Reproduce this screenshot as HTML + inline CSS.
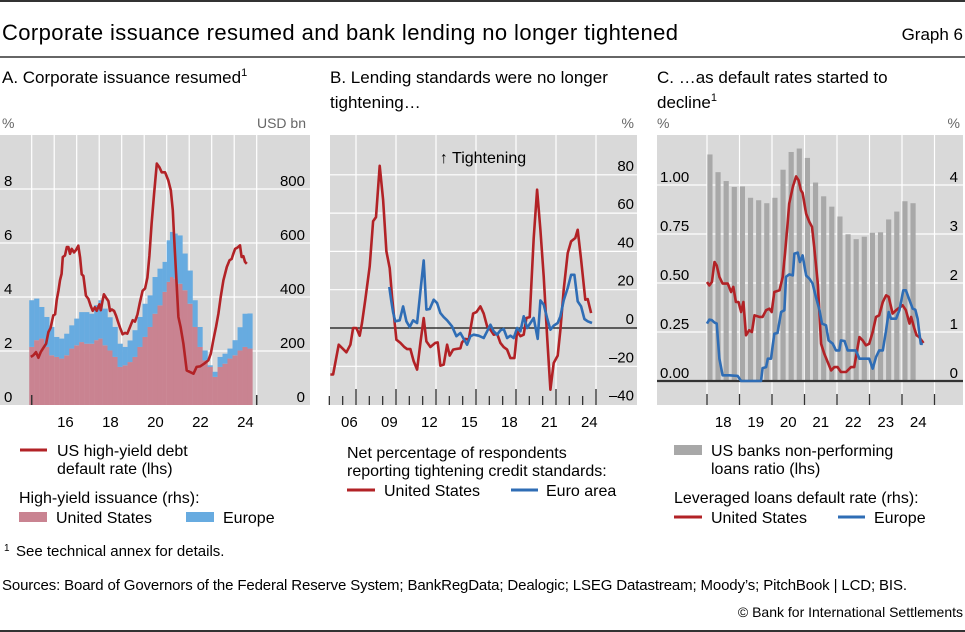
<!DOCTYPE html>
<html><head><meta charset="utf-8"><style>
html,body{margin:0;padding:0;background:#fff;}
svg{display:block;font-family:"Liberation Sans",sans-serif;}
</style></head><body>
<svg id="chart" width="965" height="632" viewBox="0 0 965 632" xmlns="http://www.w3.org/2000/svg">
<rect x="0" y="0" width="965" height="632" fill="#fff"/>
<line x1="0" y1="1" x2="965" y2="1" stroke="#333" stroke-width="2"/>
<text x="2" y="40" font-size="22" fill="#000" textLength="676">Corporate issuance resumed and bank lending no longer tightened</text>
<text x="963" y="40" font-size="17" text-anchor="end" fill="#000">Graph 6</text>
<line x1="0" y1="57" x2="965" y2="57" stroke="#333" stroke-width="1.5"/>

<text x="2" y="83" font-size="17">A. Corporate issuance resumed<tspan font-size="11" dy="-7">1</tspan></text>
<text x="330" y="83" font-size="17">B. Lending standards were no longer</text>
<text x="330" y="108" font-size="17">tightening…</text>
<text x="657" y="83" font-size="17">C. …as default rates started to</text>
<text x="657" y="108" font-size="17">decline<tspan font-size="11" dy="-7">1</tspan></text>

<g id="pa"></g>
<g id="pb"></g>
<g id="pc"></g>

<!-- legends -->
<g font-size="16">
<line x1="20" y1="450" x2="47" y2="450" stroke="#b22226" stroke-width="3"/>
<text x="57" y="456">US high-yield debt</text>
<text x="57" y="474">default rate (lhs)</text>
<text x="19" y="503">High-yield issuance (rhs):</text>
<rect x="19" y="512" width="28" height="10" fill="#c98391"/>
<text x="56" y="523">United States</text>
<rect x="186" y="512" width="28" height="10" fill="#67abe0"/>
<text x="223" y="523">Europe</text>
</g>
<g font-size="16">
<text x="347" y="458">Net percentage of respondents</text>
<text x="347" y="476">reporting tightening credit standards:</text>
<line x1="347" y1="490" x2="375" y2="490" stroke="#b22226" stroke-width="3"/>
<text x="384" y="496">United States</text>
<line x1="511" y1="490" x2="538" y2="490" stroke="#2f6db5" stroke-width="3"/>
<text x="546" y="496">Euro area</text>
</g>
<g font-size="16">
<rect x="674" y="445" width="28" height="10" fill="#a8a8a8"/>
<text x="711" y="456">US banks non-performing</text>
<text x="711" y="474">loans ratio (lhs)</text>
<text x="674" y="503">Leveraged loans default rate (rhs):</text>
<line x1="674" y1="517" x2="702" y2="517" stroke="#b22226" stroke-width="3"/>
<text x="711" y="523">United States</text>
<line x1="838" y1="517" x2="865" y2="517" stroke="#2f6db5" stroke-width="3"/>
<text x="874" y="523">Europe</text>
</g>
<text x="4" y="551" font-size="10">1</text>
<text x="16" y="556" font-size="15">See technical annex for details.</text>
<text x="2" y="590" font-size="15" textLength="905">Sources: Board of Governors of the Federal Reserve System; BankRegData; Dealogic; LSEG Datastream; Moody’s; PitchBook | LCD; BIS.</text>
<text x="963" y="617" font-size="14" text-anchor="end">© Bank for International Settlements</text>
<line x1="0" y1="631" x2="965" y2="631" stroke="#333" stroke-width="2"/>
</svg>
<script>
// ---------- Panel A data ----------
const aBarYears=[2015.00,2015.22,2015.44,2015.67,2015.89,2016.11,2016.33,2016.56,2016.78,2017.00,2017.22,2017.44,2017.67,2017.89,2018.04,2018.26,2018.48,2018.70,2018.93,2019.15,2019.37,2019.59,2019.81,2020.04,2020.26,2020.48,2020.70,2020.93,2021.07,2021.22,2021.37,2021.59,2021.81,2022.04,2022.26,2022.48,2022.70,2022.93,2023.15,2023.37,2023.59,2023.81,2024.04,2024.26,2024.48,2024.70];
const aUS=[215,240,246,215,184,178,172,184,209,221,233,227,227,240,246,221,202,178,141,147,159,178,215,252,289,338,369,419,456,474,468,449,425,375,289,215,165,141,104,141,153,172,184,202,215,209];
const aEU=[173,154,117,111,105,74,74,80,86,99,111,117,111,130,142,136,123,111,86,68,80,99,111,123,117,136,136,111,154,167,167,179,136,123,99,74,37,6,19,37,37,37,56,86,123,130];
const aDefYears=[2014.96,2015.07,2015.19,2015.30,2015.40,2015.52,2015.64,2015.74,2015.84,2015.96,2016.04,2016.11,2016.19,2016.26,2016.33,2016.38,2016.48,2016.56,2016.63,2016.70,2016.78,2016.88,2016.97,2017.07,2017.15,2017.22,2017.30,2017.41,2017.52,2017.62,2017.71,2017.81,2017.89,2018.01,2018.07,2018.16,2018.21,2018.30,2018.41,2018.48,2018.56,2018.66,2018.75,2018.85,2018.93,2019.04,2019.15,2019.25,2019.37,2019.49,2019.59,2019.70,2019.81,2019.93,2020.04,2020.14,2020.23,2020.33,2020.44,2020.56,2020.67,2020.78,2020.93,2021.07,2021.18,2021.27,2021.33,2021.41,2021.52,2021.62,2021.74,2021.89,2022.04,2022.19,2022.33,2022.48,2022.66,2022.85,2022.96,2023.07,2023.19,2023.30,2023.40,2023.52,2023.67,2023.79,2023.89,2023.96,2024.04,2024.14,2024.26,2024.33,2024.41,2024.48,2024.56];
const aDef=[1.78,1.84,1.96,1.75,1.96,2.12,2.27,2.70,2.86,3.32,3.36,3.88,4.25,4.62,4.86,5.48,5.54,5.85,5.85,5.60,5.78,5.65,5.74,5.90,5.46,4.84,4.78,4.05,3.93,3.68,3.49,3.62,3.49,3.73,3.51,3.91,4.10,3.98,3.85,3.48,3.54,3.48,3.30,3.05,2.86,2.62,2.67,2.64,2.89,3.14,3.09,3.36,3.80,4.23,4.32,4.72,5.53,6.72,7.83,8.94,8.81,8.62,8.62,8.32,7.95,7.21,6.22,4.99,3.26,2.89,2.27,1.28,1.22,1.16,1.41,1.43,1.53,1.65,1.90,2.40,2.89,3.38,4.00,4.62,5.11,5.36,5.41,5.60,5.78,5.83,5.91,5.48,5.51,5.30,5.23];
const aLeftTicks=["0","2","4","6","8"];
const aRightTicks=["0","200","400","600","800"];
const aXLabels=["16","18","20","22","24"];

// ---------- Panel B data ----------
const bUSYears=[2005.08,2005.28,2005.70,2005.95,2006.28,2006.58,2006.78,2007.03,2007.28,2007.45,2007.70,2008.03,2008.28,2008.50,2008.78,2009.03,2009.28,2009.53,2009.70,2010.03,2010.33,2010.63,2010.83,2011.08,2011.33,2011.58,2011.83,2012.08,2012.28,2012.58,2012.95,2013.13,2013.33,2013.58,2013.83,2014.03,2014.28,2014.45,2014.83,2014.95,2015.20,2015.45,2015.78,2016.03,2016.33,2016.58,2016.83,2017.08,2017.33,2017.58,2017.83,2018.08,2018.33,2018.58,2018.88,2019.08,2019.33,2019.58,2019.78,2020.03,2020.33,2020.58,2020.83,2021.08,2021.33,2021.58,2021.83,2022.13,2022.33,2022.58,2022.88,2023.13,2023.45,2023.63,2023.88,2024.20,2024.38,2024.63];
const bUS=[-24.3,-24.3,-8.7,-10.4,-12.7,-8.7,0,0,-4.0,2.6,14.8,32.2,55.7,57.9,84.7,67.0,40.0,31.3,16.5,-6.1,-7.8,-10.0,-11.0,-11.0,-17.4,-21.7,-7.8,5.2,-7.0,-9.9,-7.8,-7.5,-19.7,-19.1,-8.7,-14.4,-11.3,-11.0,-10.6,-7.5,-5.7,-6.1,7.5,8.3,11.3,7.5,0.9,-0.9,-3.5,-3.0,-7.8,-10.0,-11.3,-15.7,-15.7,-1.7,-4.3,-3.5,5.2,5.7,46.9,72.2,51.3,27.0,-4.3,-32.2,-18.3,-14.4,-0.9,20.0,39.1,45.2,47.0,51.3,35.7,14.8,15.1,7.8];
const bEAYears=[2009.50,2009.63,2009.78,2009.95,2010.28,2010.53,2010.78,2011.03,2011.28,2011.58,2011.83,2012.08,2012.28,2012.53,2012.83,2013.08,2013.33,2013.58,2013.83,2014.20,2014.53,2014.83,2015.08,2015.33,2015.58,2015.83,2016.20,2016.58,2016.83,2017.08,2017.33,2017.58,2017.83,2018.08,2018.33,2018.58,2018.83,2019.08,2019.33,2019.58,2019.83,2020.08,2020.33,2020.63,2020.83,2021.08,2021.33,2021.58,2021.83,2022.13,2022.33,2022.58,2022.88,2023.13,2023.38,2023.63,2023.88,2024.13,2024.38,2024.70];
const bEA=[21.4,14.8,8.2,3.5,4.0,11.3,3.5,0.5,4.0,2.6,19.1,35.3,9.6,9.9,14.8,13.0,7.8,5.7,4.0,0.9,-4.3,-2.6,-5.7,-8.7,-4.3,-3.5,-4.0,-5.2,-1.7,1.7,-1.7,-3.5,-1.2,-0.5,-5.2,-4.0,-5.2,0,-1.7,6.1,0,2.6,5.2,-5.7,14.4,12.2,5.2,-0.9,1.2,2.6,6.1,14.4,20.9,27.8,27.8,13.9,11.3,4.7,3.5,2.6];
const bTicks=["–40","–20","0","20","40","60","80"];
const bTickVals=[-40,-20,0,20,40,60,80];
const bXLabels=["06","09","12","15","18","21","24"];

// ---------- Panel C data ----------
const cBarQuarters=["18Q1","18Q2","18Q3","18Q4","19Q1","19Q2","19Q3","19Q4","20Q1","20Q2","20Q3","20Q4","21Q1","21Q2","21Q3","21Q4","22Q1","22Q2","22Q3","22Q4","23Q1","23Q2","23Q3","23Q4","24Q1","24Q2"];
const cNPL=[4.60,4.24,4.06,3.94,3.95,3.72,3.67,3.61,3.72,4.29,4.65,4.72,4.53,4.03,3.75,3.54,3.34,2.98,2.88,2.93,3.01,3.02,3.28,3.44,3.65,3.61];
const cUSYears=[2018.00,2018.07,2018.15,2018.23,2018.30,2018.38,2018.48,2018.64,2018.74,2018.81,2018.89,2018.97,2019.05,2019.12,2019.20,2019.30,2019.38,2019.46,2019.61,2019.71,2019.82,2019.92,2019.99,2020.07,2020.23,2020.33,2020.40,2020.48,2020.53,2020.64,2020.74,2020.82,2020.89,2020.94,2021.05,2021.15,2021.23,2021.30,2021.41,2021.51,2021.61,2021.82,2021.92,2022.02,2022.12,2022.28,2022.43,2022.53,2022.69,2022.79,2022.89,2022.99,2023.10,2023.20,2023.30,2023.41,2023.51,2023.59,2023.71,2023.82,2024.02,2024.12,2024.23,2024.28,2024.38,2024.45,2024.53,2024.66];
const cUS=[0.505,0.488,0.505,0.607,0.590,0.531,0.497,0.497,0.454,0.480,0.403,0.403,0.352,0.403,0.233,0.259,0.250,0.335,0.327,0.327,0.361,0.369,0.352,0.454,0.463,0.531,0.650,0.803,0.905,0.990,1.044,1.024,0.973,0.959,0.854,0.811,0.786,0.684,0.497,0.190,0.139,0.054,0.071,0.071,0.046,0.046,0.071,0.071,0.224,0.207,0.182,0.190,0.250,0.327,0.335,0.403,0.437,0.429,0.344,0.361,0.386,0.361,0.293,0.327,0.267,0.233,0.224,0.194];
const cEUYears=[2018.00,2018.07,2018.15,2018.23,2018.30,2018.38,2018.48,2018.69,2018.94,2019.05,2019.20,2019.66,2019.71,2019.82,2019.87,2019.97,2020.07,2020.17,2020.28,2020.38,2020.43,2020.53,2020.64,2020.69,2020.79,2020.86,2020.94,2021.05,2021.15,2021.25,2021.35,2021.46,2021.54,2021.66,2021.74,2021.87,2021.97,2022.07,2022.12,2022.23,2022.33,2022.58,2022.69,2022.99,2023.10,2023.20,2023.30,2023.41,2023.51,2023.59,2023.66,2023.82,2023.92,2024.04,2024.12,2024.23,2024.33,2024.41,2024.48,2024.53,2024.58,2024.64];
const cEU=[0.293,0.313,0.310,0.298,0.293,0.114,0.029,0.029,0.026,0,0,0,0.066,0.071,0.114,0.114,0.241,0.245,0.352,0.361,0.531,0.544,0.539,0.650,0.655,0.607,0.641,0.539,0.522,0.497,0.429,0.361,0.293,0.284,0.207,0.190,0.156,0.156,0.207,0.204,0.156,0.156,0.114,0.114,0.063,0.122,0.156,0.156,0.259,0.352,0.318,0.318,0.361,0.463,0.463,0.412,0.369,0.364,0.318,0.250,0.190,0.190];
const cLeftTicks=["0.00","0.25","0.50","0.75","1.00"];
const cRightTicks=["0","1","2","3","4"];
const cXLabels=["18","19","20","21","22","23","24"];

const NS="http://www.w3.org/2000/svg";
function mk(parent,tag,attrs,text){const e=document.createElementNS(NS,tag);for(const k in attrs)e.setAttribute(k,attrs[k]);if(text!==undefined)e.textContent=text;parent.appendChild(e);return e;}
const RED="#b22226",BLUE="#2f6db5";
function pathD(xs,ys,fx,fy){return xs.map((x,i)=>(i?"L":"M")+fx(x).toFixed(1)+","+fy(ys[i]).toFixed(1)).join("");}

// ===== Panel A =====
(function(){
const g=document.getElementById('pa');
const L=0,R=310,T=135,B=405;
const ax=y=>31.7+(y-2015)*22.5;
const ayL=v=>B-v*27;
const ayR=v=>B-v*0.27;
const bg=mk(g,'rect',{x:L,y:T,width:R-L,height:B-T,fill:'#d9d9d9'});


for(let yr=2015;yr<=2025;yr++)mk(g,'line',{x1:ax(yr),y1:T,x2:ax(yr),y2:B,stroke:'#fff','stroke-width':1.2});
aLeftTicks.forEach((t,i)=>{const v=+t;const y=ayL(v);if(v>0)mk(g,'line',{x1:L,y1:y,x2:R,y2:y,stroke:'#fff','stroke-width':1.2});
 const tl=mk(g,'text',{x:4,y:y-3,'font-size':15},t);
 const tr=mk(g,'text',{x:305,y:y-3,'font-size':15,'text-anchor':'end'},aRightTicks[i]);});
aBarYears.forEach((yr,i)=>{
 const prev=i>0?aBarYears[i-1]:yr-(aBarYears[1]-aBarYears[0]);
 const next=i<aBarYears.length-1?aBarYears[i+1]:yr+(yr-prev);
 const x0=ax((prev+yr)/2),x1=ax((yr+next)/2);
 const us=mk(g,'rect',{x:x0,y:ayR(aUS[i]),width:x1-x0+0.2,height:B-ayR(aUS[i]),fill:'#c98391'});
 
 const eu=mk(g,'rect',{x:x0,y:ayR(aUS[i]+aEU[i]),width:x1-x0+0.2,height:ayR(aUS[i])-ayR(aUS[i]+aEU[i]),fill:'#67abe0'});
 
});
[2015,2025].forEach(yr=>mk(g,'line',{x1:ax(yr),y1:395,x2:ax(yr),y2:B,stroke:'#333','stroke-width':1.5}));
const p=mk(g,'path',{d:pathD(aDefYears,aDef,ax,ayL),fill:'none',stroke:RED,'stroke-width':2.6,'stroke-linejoin':'round'});

aXLabels.forEach(t=>{const yr=2000+ +t+0.5;const e=mk(g,'text',{x:ax(yr),y:427,'font-size':15,'text-anchor':'middle'},t);});
const u1=mk(g,'text',{x:2,y:128,'font-size':14,fill:'#666'},'%');
const u2=mk(g,'text',{x:306,y:128,'font-size':14,fill:'#666','text-anchor':'end'},'USD bn');
})();

// ===== Panel B =====
(function(){
const g=document.getElementById('pb');
const L=330,R=637,T=135,B=405;
const ax=y=>356+(y-2007)*13.333;
const ay=v=>328-v*1.915;
const bg=mk(g,'rect',{x:L,y:T,width:R-L,height:B-T,fill:'#d9d9d9'});

for(let yr=2007;yr<=2025;yr+=3)mk(g,'line',{x1:ax(yr),y1:T,x2:ax(yr),y2:B,stroke:'#fff','stroke-width':1.2});
bTickVals.forEach((v,i)=>{const y=ay(v);if(v!==0&&v>-40)mk(g,'line',{x1:L,y1:y,x2:R,y2:y,stroke:'#fff','stroke-width':1.2});
 const t=mk(g,'text',{x:634,y:y-4,'font-size':15,'text-anchor':'end'},bTicks[i]);});
mk(g,'line',{x1:L,y1:ay(0),x2:R,y2:ay(0),stroke:'#111','stroke-width':1.3});
for(let yr=2005;yr<=2025;yr++){const major=(yr-2007)%3===0;mk(g,'line',{x1:ax(yr),y1:major?389:396,x2:ax(yr),y2:B,stroke:'#333','stroke-width':1.3});}
const p1=mk(g,'path',{d:pathD(bUSYears,bUS,ax,ay),fill:'none',stroke:RED,'stroke-width':2.6,'stroke-linejoin':'round'});

const p2=mk(g,'path',{d:pathD(bEAYears,bEA,ax,ay),fill:'none',stroke:BLUE,'stroke-width':2.6,'stroke-linejoin':'round'});

bXLabels.forEach(t=>{const yr=2000+ +t+0.5;const e=mk(g,'text',{x:ax(yr),y:427,'font-size':15,'text-anchor':'middle'},t);});
const tt=mk(g,'text',{x:483,y:163,'font-size':16,'text-anchor':'middle'},'↑ Tightening');
const u=mk(g,'text',{x:634,y:128,'font-size':14,fill:'#666','text-anchor':'end'},'%');
})();

// ===== Panel C =====
(function(){
const g=document.getElementById('pc');
const L=657,R=963,T=135,B=405;
const ax=y=>707+(y-2018)*32.5;
const ayL=v=>381-v*196;
const ayR=v=>381-v*49.25;
const bg=mk(g,'rect',{x:L,y:T,width:R-L,height:B-T,fill:'#d9d9d9'});

for(let yr=2018;yr<=2025;yr++)mk(g,'line',{x1:ax(yr),y1:T,x2:ax(yr),y2:B,stroke:'#fff','stroke-width':1.2});
cLeftTicks.forEach((t,i)=>{const y=ayL(+t);if(+t>0)mk(g,'line',{x1:L,y1:y,x2:R,y2:y,stroke:'#fff','stroke-width':1.2});
 const a=mk(g,'text',{x:660,y:y-3,'font-size':15},t);
 const b=mk(g,'text',{x:958,y:y-3,'font-size':15,'text-anchor':'end'},cRightTicks[i]);});
cBarQuarters.forEach((q,i)=>{const yr=2000+ +q.slice(0,2)+(+q.slice(3)-1)*0.25+0.09;
 const r=mk(g,'rect',{x:ax(yr)-2.6,y:ayR(cNPL[i]),width:5.2,height:381-ayR(cNPL[i]),fill:'#a8a8a8'});
 });
mk(g,'line',{x1:L,y1:381,x2:R,y2:381,stroke:'#333','stroke-width':2.2});
for(let yr=2018;yr<=2025;yr++)mk(g,'line',{x1:ax(yr),y1:394,x2:ax(yr),y2:B,stroke:'#333','stroke-width':1.3});
const p1=mk(g,'path',{d:pathD(cUSYears,cUS,ax,ayL),fill:'none',stroke:RED,'stroke-width':2.6,'stroke-linejoin':'round'});

const p2=mk(g,'path',{d:pathD(cEUYears,cEU,ax,ayL),fill:'none',stroke:BLUE,'stroke-width':2.6,'stroke-linejoin':'round'});

cXLabels.forEach(t=>{const yr=2000+ +t+0.5;const e=mk(g,'text',{x:ax(yr),y:427,'font-size':15,'text-anchor':'middle'},t);});
const u1=mk(g,'text',{x:657,y:128,'font-size':14,fill:'#666'},'%');
const u2=mk(g,'text',{x:960,y:128,'font-size':14,fill:'#666','text-anchor':'end'},'%');
})();
</script>
</body></html>
